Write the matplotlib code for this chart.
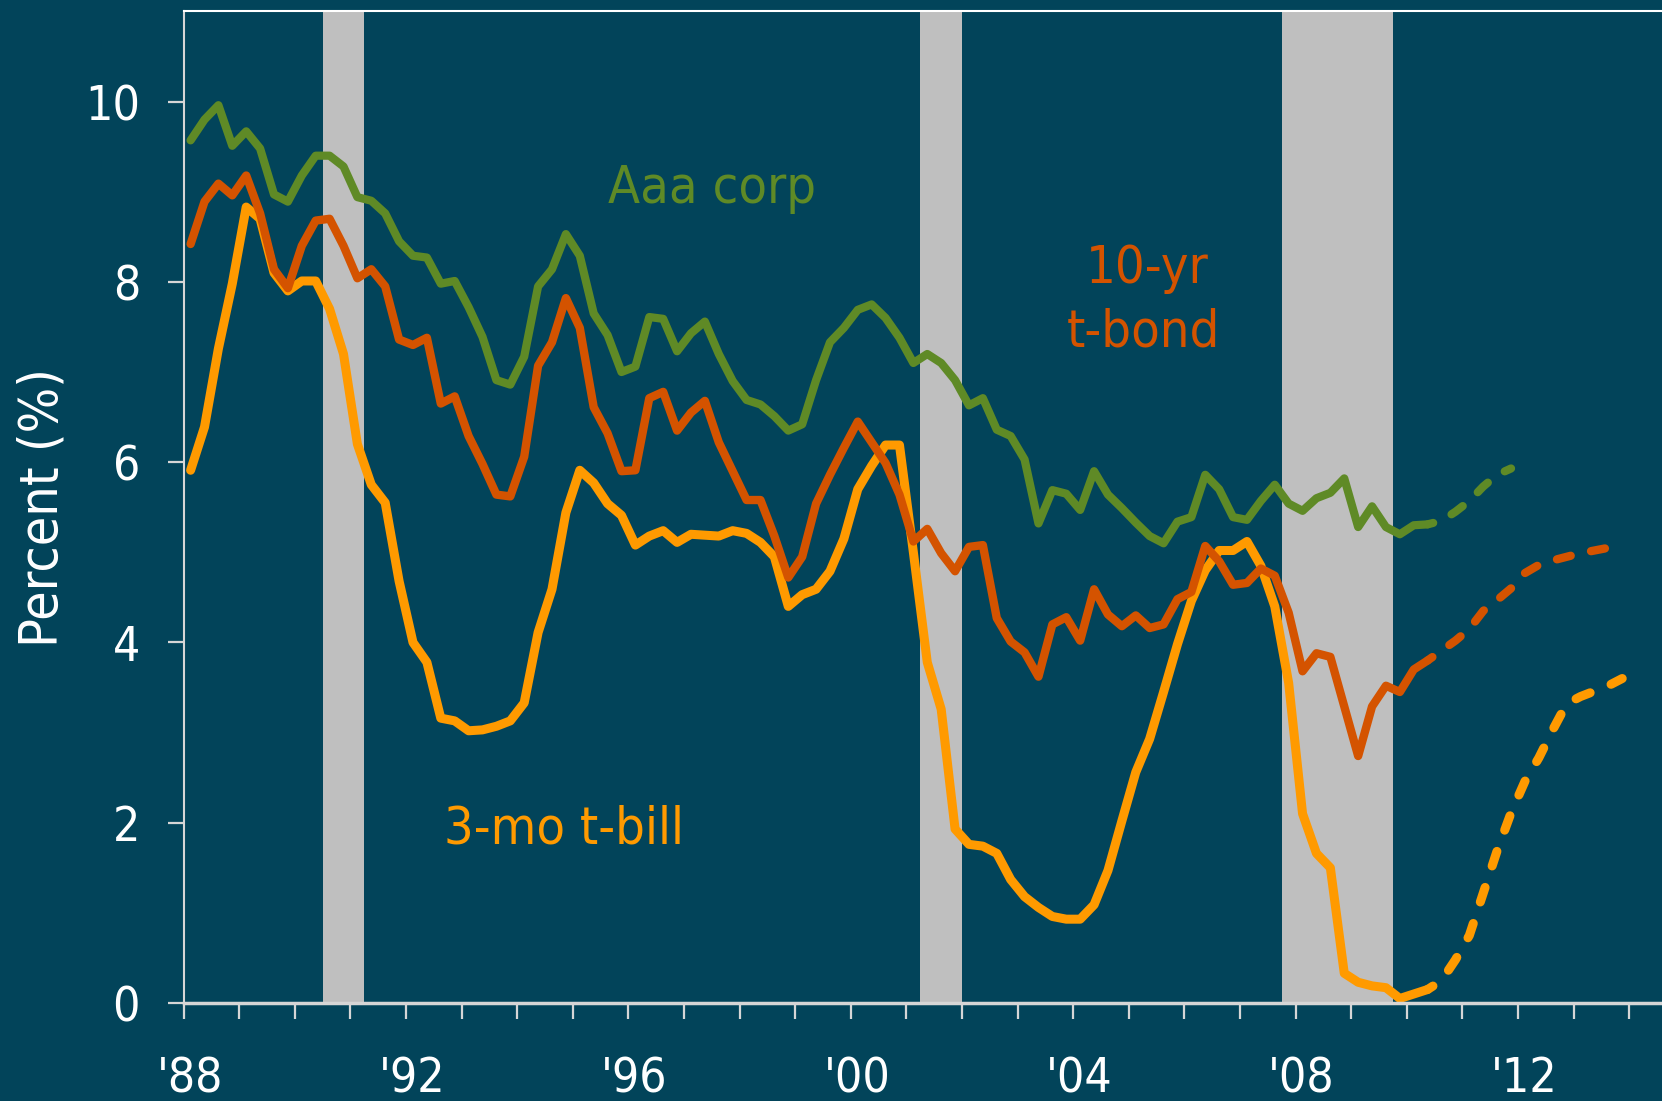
import matplotlib
matplotlib.use("Agg")
import matplotlib.pyplot as plt
import numpy as np
from matplotlib import font_manager as fm
from matplotlib.font_manager import FontProperties
from matplotlib.transforms import ScaledTranslation

# ---------------- data (quarterly, starting 1988 Q1) ----------------
start_year = 1988.125
step = 0.25

aaa_corp = [9.57, 9.80, 9.96, 9.51, 9.67, 9.48, 8.97, 8.89, 9.18, 9.40,
            9.40, 9.28, 8.94, 8.90, 8.76, 8.45, 8.29, 8.27, 7.98, 8.01,
            7.72, 7.39, 6.91, 6.86, 7.17, 7.95, 8.14, 8.53, 8.29, 7.65,
            7.41, 7.00, 7.06, 7.61, 7.59, 7.23, 7.43, 7.56, 7.20, 6.90,
            6.69, 6.64, 6.51, 6.35, 6.42, 6.91, 7.33, 7.49, 7.69, 7.75,
            7.60, 7.38, 7.10, 7.20, 7.10, 6.91, 6.63, 6.71, 6.36, 6.29,
            6.03, 5.32, 5.69, 5.65, 5.47, 5.90, 5.64, 5.49, 5.33, 5.18,
            5.10, 5.34, 5.39, 5.86, 5.70, 5.39, 5.36, 5.57, 5.75, 5.54,
            5.46, 5.60, 5.66, 5.82, 5.28, 5.51, 5.28, 5.20, 5.30, 5.31]
aaa_corp_fc = [5.31, 5.35, 5.45, 5.57, 5.73, 5.86, 5.93]

tbond_10yr = [8.42, 8.89, 9.09, 8.96, 9.18, 8.76, 8.14, 7.93, 8.40, 8.68,
              8.70, 8.40, 8.04, 8.14, 7.95, 7.36, 7.30, 7.38, 6.65, 6.73,
              6.29, 5.98, 5.64, 5.62, 6.06, 7.07, 7.33, 7.82, 7.49, 6.61,
              6.32, 5.90, 5.91, 6.71, 6.78, 6.35, 6.55, 6.68, 6.22, 5.90,
              5.58, 5.58, 5.18, 4.72, 4.95, 5.54, 5.86, 6.16, 6.45, 6.22,
              5.99, 5.64, 5.12, 5.26, 4.99, 4.79, 5.06, 5.08, 4.27, 4.01,
              3.89, 3.62, 4.20, 4.28, 4.02, 4.59, 4.31, 4.18, 4.30, 4.16,
              4.20, 4.48, 4.56, 5.07, 4.90, 4.64, 4.66, 4.82, 4.74, 4.33,
              3.68, 3.88, 3.84, 3.29, 2.74, 3.29, 3.52, 3.45, 3.70, 3.80]
tbond_10yr_fc = [3.80, 3.91, 4.02, 4.15, 4.35, 4.47, 4.60, 4.77, 4.86, 4.91,
                 4.95, 4.99, 5.02, 5.05]

tbill_3mo = [5.91, 6.39, 7.26, 7.98, 8.83, 8.70, 8.10, 7.90, 8.01, 8.01,
             7.70, 7.20, 6.20, 5.75, 5.55, 4.68, 4.00, 3.78, 3.16, 3.13,
             3.02, 3.03, 3.07, 3.13, 3.33, 4.11, 4.59, 5.44, 5.91, 5.77,
             5.54, 5.41, 5.08, 5.18, 5.24, 5.11, 5.20, 5.19, 5.18, 5.24,
             5.21, 5.11, 4.95, 4.40, 4.53, 4.59, 4.79, 5.15, 5.70, 5.96,
             6.19, 6.19, 5.00, 3.78, 3.26, 1.93, 1.76, 1.74, 1.66, 1.37,
             1.18, 1.06, 0.96, 0.93, 0.93, 1.09, 1.47, 2.02, 2.56, 2.93,
             3.45, 3.98, 4.46, 4.80, 5.02, 5.02, 5.12, 4.85, 4.40, 3.55,
             2.10, 1.66, 1.50, 0.33, 0.23, 0.19, 0.17, 0.05, 0.10, 0.15]
tbill_3mo_fc = [0.15, 0.25, 0.48, 0.75, 1.22, 1.69, 2.11, 2.46, 2.72, 3.03,
                3.32, 3.40, 3.46, 3.52, 3.60]

recessions = [(1990.5, 1991.25), (2001.25, 2002.0), (2007.75, 2009.75)]

x_tick_years = list(range(1988, 2015))
x_label_years = [1988, 1992, 1996, 2000, 2004, 2008, 2012]
x_labels = ["'88", "'92", "'96", "'00", "'04", "'08", "'12"]
y_ticks = [0, 2, 4, 6, 8, 10]

# ---------------- style ----------------
BG = "#02445a"
GREEN = "#5f8a26"
RED = "#d45300"
ORANGE = "#ff9a00"
SHADE = "#bfbfbf"
AXC = "#d6d6d6"

# pick a condensed sans font if available (reference uses a narrow Tahoma-like face)
font_file = None
for f in fm.fontManager.ttflist:
    if "DejaVuSansCondensed.ttf" in f.fname:
        font_file = f.fname
        break
if font_file is None:
    for f in fm.fontManager.ttflist:
        if "LiberationSansNarrow-Regular" in f.fname:
            font_file = f.fname
            break


def fp(size):
    if font_file:
        return FontProperties(fname=font_file, size=size)
    return FontProperties(family="DejaVu Sans", size=size)


def qx(first_index, n):
    return start_year + step * (first_index + np.arange(n))


fig = plt.figure(figsize=(16.62, 11.01), dpi=100, facecolor=BG)
ax = fig.add_axes([0.1105, 0.089, 0.8895, 0.9006])
ax.set_facecolor(BG)

for a, b in recessions:
    ax.axvspan(a, b, color=SHADE, lw=0, zorder=1)

n_act = len(aaa_corp)
dash = (1.0, (1.7, 2.5))

series = [
    (aaa_corp, aaa_corp_fc, GREEN, 5.9, 3),
    (tbill_3mo, tbill_3mo_fc, ORANGE, 6.5, 3.5),
    (tbond_10yr, tbond_10yr_fc, RED, 6.0, 4),
]
for actual, forecast, col, lw, z in series:
    ax.plot(qx(0, len(actual)), actual, color=col, lw=lw, solid_capstyle="round",
            solid_joinstyle="round", zorder=z)
    ax.plot(qx(len(actual) - 1, len(forecast)), forecast, color=col, lw=lw,
            linestyle=dash, dash_capstyle="round", dash_joinstyle="round", zorder=z)

ax.set_xlim(1988, 2014.59)
ax.set_ylim(0, 11.0)

ax.set_xticks(x_tick_years)
ax.set_xticklabels([x_labels[x_label_years.index(y)] if y in x_label_years else ""
                    for y in x_tick_years])
ax.set_yticks(y_ticks)
ax.set_yticklabels([str(v) for v in y_ticks])

ax.tick_params(axis="x", direction="out", length=11.5, width=1.6, color=AXC,
               colors="white", pad=26)
ax.tick_params(axis="y", direction="out", length=11.5, width=1.6, color=AXC,
               colors="white", pad=20)
ax.tick_params(axis="x", color=AXC)
ax.tick_params(axis="y", color=AXC)
for lab in ax.get_xticklabels():
    lab.set_fontproperties(fp(34.5))
    lab.set_color("white")
    lab.set_transform(lab.get_transform() + ScaledTranslation(0.06, 0, fig.dpi_scale_trans))
for lab in ax.get_yticklabels():
    lab.set_fontproperties(fp(34.5))
    lab.set_color("white")

ax.spines["right"].set_visible(False)
ax.spines["top"].set_color("white")
ax.spines["top"].set_linewidth(1.5)
ax.spines["left"].set_color(AXC)
ax.spines["left"].set_linewidth(1.5)
ax.spines["bottom"].set_color(AXC)
ax.spines["bottom"].set_linewidth(2.5)
for s in ax.spines.values():
    s.set_zorder(5)

ax.text(1997.50, 8.87, "Aaa corp", color=GREEN, fontproperties=fp(37.5),
        ha="center", va="baseline", zorder=6)
ax.text(2005.33, 7.99, "10-yr", color=RED, fontproperties=fp(37.5),
        ha="center", va="baseline", zorder=6)
ax.text(2005.27, 7.28, "t-bond", color=RED, fontproperties=fp(37.5),
        ha="center", va="baseline", zorder=6)
ax.text(1994.84, 1.77, "3-mo t-bill", color=ORANGE, fontproperties=fp(37.5),
        ha="center", va="baseline", zorder=6)

fig.text(0.0253, 0.539, "Percent (%)", rotation=90, color="white",
         fontproperties=fp(38.5), ha="center", va="center")

fig.savefig("out.png", dpi=100, facecolor=BG)
